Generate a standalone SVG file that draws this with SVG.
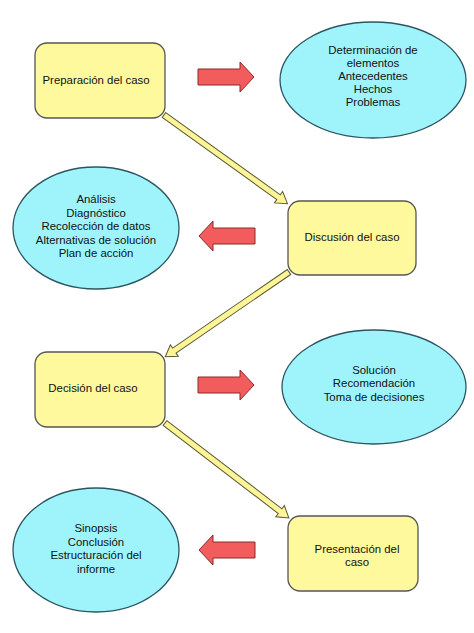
<svg xmlns="http://www.w3.org/2000/svg" width="474" height="633" viewBox="0 0 474 633">
<style>
.box{fill:#fdf99c;stroke:#555;stroke-width:1.3}
.ell{fill:#9ff4fb;stroke:#2d5560;stroke-width:1.3}
.red{fill:#f25c5c;stroke:#8a2a2a;stroke-width:1}
.yel{fill:#fbf597;stroke:#5a5630;stroke-width:1}
text{font-family:"Liberation Sans",Arial,sans-serif;font-size:11.4px;fill:#111;text-anchor:middle}
</style>
<defs>
<path id="ra" d="M0,-8 H42 V-15 L56,0 L42,15 V8 H0 Z"/>
<path id="la" d="M56,-8 H14 V-15 L0,0 L14,15 V8 H56 Z"/>
</defs>
<rect width="474" height="633" fill="#fff"/>
<g id="connectors">
<use href="#ra" class="red" transform="translate(198,77)"/>
<use href="#la" class="red" transform="translate(199,236)"/>
<use href="#ra" class="red" transform="translate(198,385)"/>
<use href="#la" class="red" transform="translate(199,550)"/>
<polygon class="yel" transform="translate(164,115) rotate(35.67)" points="0,-3 141,-3 141,-7 152,0 141,7 141,3 0,3"/>
<polygon class="yel" transform="translate(289,272) rotate(145.57)" points="0,-3 139,-3 139,-7 150,0 139,7 139,3 0,3"/>
<polygon class="yel" transform="translate(165,423) rotate(37.46)" points="0,-3 145,-3 145,-7 156,0 145,7 145,3 0,3"/>
</g>
<g id="n1"><rect class="box" x="35" y="43" width="130" height="75" rx="12"/><text x="96" y="84">Preparación del caso</text></g>
<g id="n2"><ellipse class="ell" cx="373" cy="80" rx="93" ry="58"/>
<text x="373" y="54">Determinación de</text><text x="373" y="67">elementos</text><text x="373" y="80">Antecedentes</text><text x="373" y="93">Hechos</text><text x="373" y="106">Problemas</text></g>
<g id="n3"><rect class="box" x="288" y="201" width="128" height="74" rx="12"/><text x="352" y="241">Discusión del caso</text></g>
<g id="n4"><ellipse class="ell" cx="96" cy="228" rx="83" ry="61"/>
<text x="96" y="203">Análisis</text><text x="96" y="217">Diagnóstico</text><text x="96" y="230">Recolección de datos</text><text x="96" y="244">Alternativas de solución</text><text x="96" y="257">Plan de acción</text></g>
<g id="n5"><rect class="box" x="35" y="352" width="130" height="75" rx="12"/><text x="93" y="392">Decisión del caso</text></g>
<g id="n6"><ellipse class="ell" cx="374" cy="387" rx="92" ry="57"/>
<text x="374" y="374">Solución</text><text x="374" y="387">Recomendación</text><text x="374" y="401">Toma de decisiones</text></g>
<g id="n7"><rect class="box" x="288" y="516" width="130" height="75" rx="12"/><text x="357" y="553">Presentación del</text><text x="357" y="566">caso</text></g>
<g id="n8"><ellipse class="ell" cx="96" cy="550" rx="83" ry="62"/>
<text x="96" y="532">Sinopsis</text><text x="96" y="546">Conclusión</text><text x="96" y="559">Estructuración del</text><text x="96" y="573">informe</text></g>
</svg>
